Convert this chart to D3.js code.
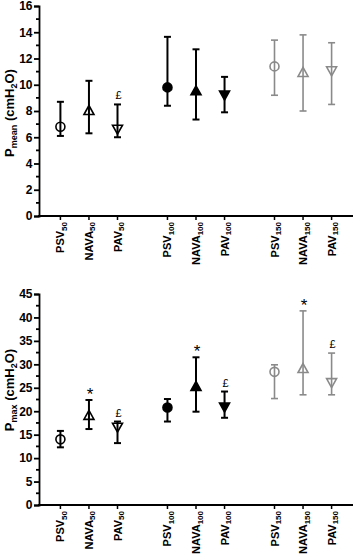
<!DOCTYPE html>
<html>
<head>
<meta charset="utf-8">
<script src="https://cdnjs.cloudflare.com/ajax/libs/d3/7.8.5/d3.min.js"></script>
<style>
body { margin: 0; background: #fff; }
text { font-family: "Liberation Sans", Arial, sans-serif; }
</style>
</head>
<body>
<script>
width = 358
height = 557

// categories: mode + assist level
modes = ['PSV', 'NAVA', 'PAV', 'PSV', 'NAVA', 'PAV', 'PSV', 'NAVA', 'PAV']
levels = ['50', '50', '50', '100', '100', '100', '150', '150', '150']

// Pmean panel
meanMid = [6.8, 8.0, 6.65, 9.8, 9.5, 9.25, 11.4, 10.9, 11.1]
meanLow = [6.1, 6.3, 6.0, 8.4, 7.35, 7.9, 9.2, 8.0, 8.5]
meanHigh = [8.7, 10.3, 8.5, 13.65, 12.7, 10.6, 13.4, 13.8, 13.2]
meanNote = ['', '', '£', '', '', '', '', '', '']

// Pmax panel
maxMid = [14.0, 19.0, 16.7, 20.8, 25.2, 21.0, 28.4, 29.0, 26.2]
maxLow = [12.3, 16.2, 13.2, 17.8, 19.9, 18.6, 22.7, 23.5, 23.5]
maxHigh = [15.8, 22.4, 17.8, 22.6, 31.5, 24.2, 29.9, 41.4, 32.4]
maxNote = ['', '*', '£', '', '*', '£', '', '*', '£']

meanTicks = [0, 2, 4, 6, 8, 10, 12, 14, 16]
maxTicks = [0, 5, 10, 15, 20, 25, 30, 35, 40, 45]

svg = d3.select('body')
    .append('svg')
    .attr('width', width)
    .attr('height', height)

// x position from group and index within group
var xScale = d3.scaleLinear()
    .domain([0, 11])
    .range([39, 353])

function xPos(i) {
    var g = Math.floor(i / 3)
    return xScale(0.75 + g * 3.75 + (i % 3))
}

function colorOf(i) {
    return i >= 6 ? '#8a8a8a' : '#000'
}

function drawPanel(opts) {
    var yScale = d3.scaleLinear()
        .domain([0, opts.max])
        .range([opts.bottom, opts.top])

    var g = svg.append('g')

    // y axis
    var yAxis = g.append('g')
        .attr('transform', 'translate(39,0)')
        .call(d3.axisLeft(yScale).tickValues(opts.ticks).tickSize(5).tickPadding(1.5))
    yAxis.selectAll('text')
        .style('font-size', '12px')
        .style('font-weight', 'bold')
        .attr('fill', '#000')
    // minor ticks
    var minors = d3.range(opts.minorStep, opts.max, opts.minorStep * 2)
    yAxis.selectAll('.minor')
        .data(minors)
        .enter()
        .append('line')
        .attr('class', 'minor')
        .attr('x1', -3)
        .attr('x2', 0)
        .attr('y1', d => yScale(d))
        .attr('y2', d => yScale(d))
        .attr('stroke', '#000')
        .attr('stroke-width', 1.5)
    yAxis.selectAll('path, line').attr('stroke-width', 1.8)

    // x axis
    g.append('line')
        .attr('x1', 38)
        .attr('x2', 353)
        .attr('y1', opts.bottom)
        .attr('y2', opts.bottom)
        .attr('stroke', '#000')
        .attr('stroke-width', 1.8)

    modes.forEach(function(m, i) {
        var x = xPos(i)
        g.append('line')
            .attr('x1', x).attr('x2', x)
            .attr('y1', opts.bottom).attr('y2', opts.bottom + 4)
            .attr('stroke', '#000').attr('stroke-width', 1.5)
        var t = g.append('text')
            .attr('transform', 'translate(' + (x + 4) + ',' + (opts.bottom + 6) + ') rotate(-90)')
            .attr('text-anchor', 'end')
            .style('font-size', '11px')
            .style('font-weight', 'bold')
        t.append('tspan').text(m)
        t.append('tspan').text(levels[i])
            .attr('dy', 2.5)
            .style('font-size', '8px')
    })

    // error bars
    var c = opts.mid.map(function(v, i) {
        return { x: xPos(i), mid: v, lo: opts.low[i], hi: opts.high[i], note: opts.note[i], i: i }
    })
    c.forEach(function(d) {
        var col = colorOf(d.i)
        var w = d.i >= 6 ? 1.6 : 2
        g.append('line')
            .attr('x1', d.x).attr('x2', d.x)
            .attr('y1', yScale(d.lo)).attr('y2', yScale(d.hi))
            .attr('stroke', col).attr('stroke-width', w)
        ;[d.lo, d.hi].forEach(function(v) {
            g.append('line')
                .attr('x1', d.x - 3.5).attr('x2', d.x + 3.5)
                .attr('y1', yScale(v)).attr('y2', yScale(v))
                .attr('stroke', col).attr('stroke-width', w)
        })

        // markers
        var filled = d.i >= 3 && d.i < 6
        var y = yScale(d.mid)
        var kind = d.i % 3
        var mark
        if (kind == 0) {
            mark = g.append('circle').attr('cx', d.x).attr('cy', y).attr('r', 4.5)
        } else if (kind == 1) {
            mark = g.append('path')
                .attr('d', 'M0,-5.5L5,3.5L-5,3.5Z')
                .attr('transform', 'translate(' + d.x + ',' + y + ')')
        } else {
            mark = g.append('path')
                .attr('d', 'M0,5.5L5,-3.5L-5,-3.5Z')
                .attr('transform', 'translate(' + d.x + ',' + y + ')')
        }
        mark.attr('fill', filled ? col : 'none')
            .attr('stroke', col)
            .attr('stroke-width', 1.6)

        if (d.note) {
            g.append('text')
                .text(d.note)
                .attr('x', d.x + 1)
                .attr('y', yScale(d.hi) - (d.note == '*' ? 0 : 5))
                .attr('text-anchor', 'middle')
                .style('font-size', d.note == '*' ? '17px' : '11px')
        }
    })

    // y axis title
    var title = g.append('text')
        .attr('transform', 'translate(' + 14 + ',' + opts.titleY + ') rotate(-90)')
        .attr('text-anchor', 'middle')
        .style('font-size', '13px')
        .style('font-weight', 'bold')
    title.append('tspan').text('P')
    title.append('tspan').text(opts.sub).attr('dy', 3).style('font-size', '9px')
    title.append('tspan').text(' (cmH').attr('dy', -3)
    title.append('tspan').text('2').attr('dy', 3).style('font-size', '9px')
    title.append('tspan').text('O)').attr('dy', -3)
}

drawPanel({ top: 6, bottom: 216, max: 16, ticks: meanTicks, minorStep: 1,
    mid: meanMid, low: meanLow, high: meanHigh, note: meanNote, sub: 'mean', titleY: 113 })

drawPanel({ top: 294, bottom: 505, max: 45, ticks: maxTicks, minorStep: 2.5,
    mid: maxMid, low: maxLow, high: maxHigh, note: maxNote, sub: 'max', titleY: 390 })
</script>
</body>
</html>
